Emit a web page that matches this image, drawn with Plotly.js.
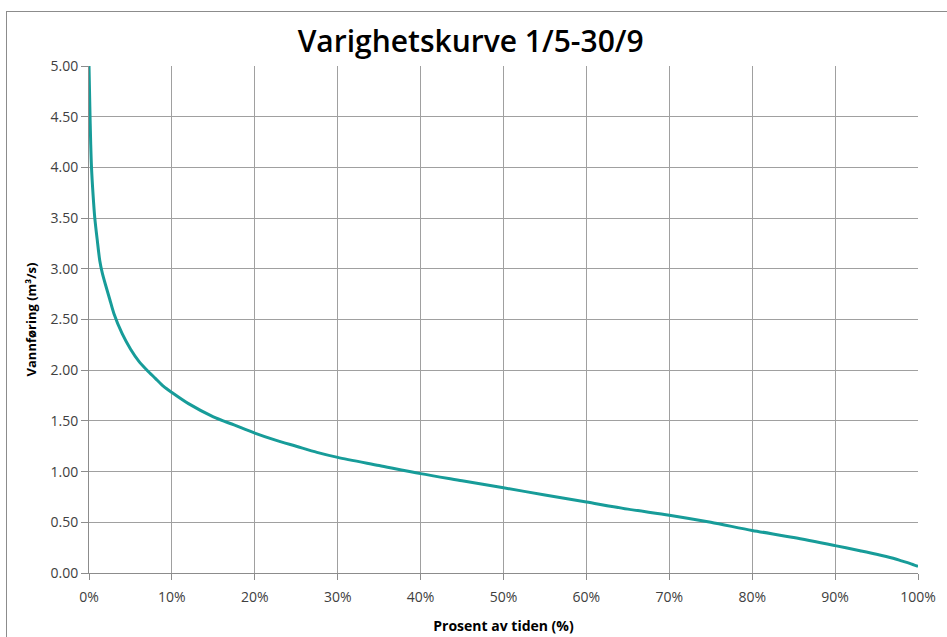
<!DOCTYPE html>
<html>
<head>
<meta charset="utf-8">
<script src="https://cdn.plot.ly/plotly-3.0.1.min.js"></script>
<style>
html,body{margin:0;padding:0;overflow:hidden;background:#fff;}
#frame{position:absolute;left:6px;top:11px;width:1000px;height:700px;border:1px solid #8c8c8c;box-sizing:border-box;}
#chart{position:absolute;left:0;top:0;width:947px;height:637px;}
</style>
</head>
<body>
<div id="frame"></div>
<div id="chart"></div>
<script>
// Percent of time (%)
const percentTime = [0, 0.1, 0.2, 0.3, 0.5, 0.7, 1.0, 1.3, 1.6, 2.0, 2.5, 3.0, 4.0, 5.0, 6.0, 7.0, 8.0, 9.0, 10, 12, 15, 17.5, 20, 22.5, 25, 27.5, 30, 35, 40, 45, 50, 55, 60, 65, 70, 75, 80, 85, 90, 93, 95, 97, 98, 99, 100];
// Discharge (m3/s)
const discharge = [5.0, 4.6, 4.25, 4.0, 3.72, 3.5, 3.28, 3.08, 2.96, 2.84, 2.70, 2.56, 2.36, 2.21, 2.09, 2.0, 1.92, 1.84, 1.78, 1.67, 1.54, 1.46, 1.38, 1.31, 1.25, 1.19, 1.14, 1.06, 0.98, 0.91, 0.84, 0.77, 0.70, 0.63, 0.57, 0.50, 0.42, 0.35, 0.27, 0.22, 0.185, 0.145, 0.12, 0.095, 0.065];

const titleText = 'Varighetskurve 1/5-30/9';
const xTitle = 'Prosent av tiden (%)';
const yTitle = 'Vannføring (m³/s)';

const font = 'Open Sans, DejaVu Sans, sans-serif';

Plotly.newPlot('chart', [{
  x: percentTime,
  y: discharge,
  type: 'scatter',
  mode: 'lines',
  line: {color: '#179c99', width: 3, shape: 'spline', smoothing: 0.8},
  hoverinfo: 'skip'
}], {
  width: 947,
  height: 637,
  margin: {l: 89, r: 29, t: 66, b: 64},
  paper_bgcolor: 'rgba(0,0,0,0)',
  plot_bgcolor: '#fff',
  showlegend: false,
  title: {
    text: titleText,
    x: 0.497, xref: 'container', xanchor: 'center', y: 0.935, yref: 'container', yanchor: 'middle',
    font: {family: font, size: 30, color: '#000', weight: 600}
  },
  xaxis: {
    range: [0, 100],
    dtick: 10,
    ticksuffix: '%',
    showgrid: true,
    gridcolor: '#a0a0a0',
    gridwidth: 1,
    zeroline: false,
    showline: true,
    linecolor: '#8c8c8c',
    ticks: 'outside',
    ticklen: 6,
    tickcolor: '#8c8c8c',
    ticklabelstandoff: 5,
    tickfont: {family: font, size: 14, color: '#404040'},
    title: {text: xTitle, standoff: 16, font: {family: font, size: 14, color: '#000', weight: 'bold'}}
  },
  yaxis: {
    range: [0, 5],
    dtick: 0.5,
    tickformat: '.2f',
    showgrid: true,
    gridcolor: '#a0a0a0',
    gridwidth: 1,
    zeroline: false,
    showline: true,
    linecolor: '#8c8c8c',
    ticks: 'outside',
    ticklen: 7,
    tickcolor: '#8c8c8c',
    tickfont: {family: font, size: 14, color: '#404040'},
    title: {text: yTitle, standoff: 10, font: {family: font, size: 13, color: '#000', weight: 'bold'}}
  }
}, {displayModeBar: false, staticPlot: true});
</script>
</body>
</html>
